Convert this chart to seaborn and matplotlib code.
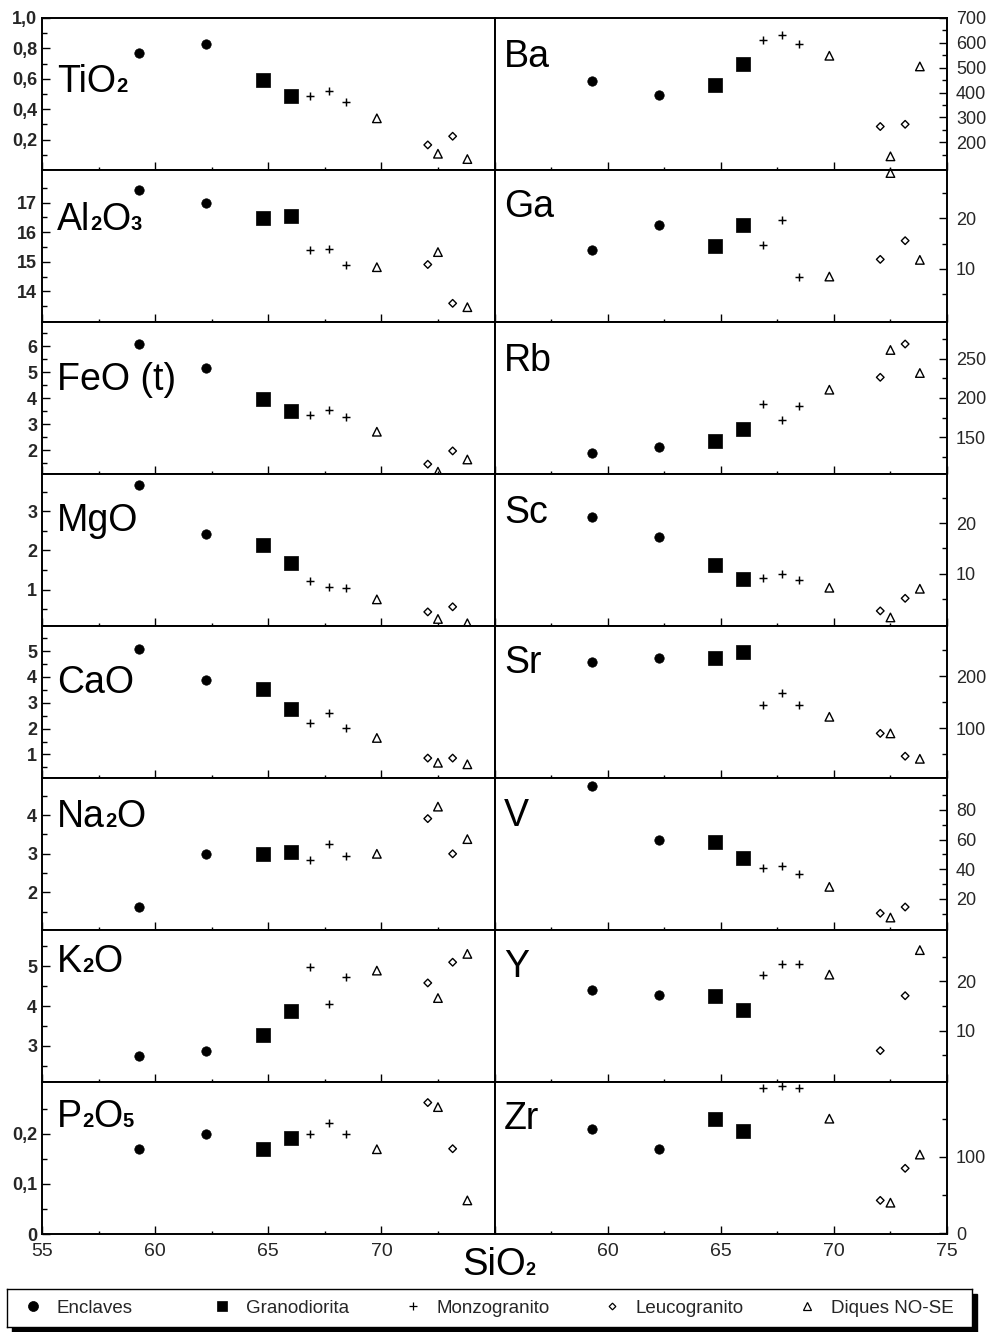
import numpy as np
import matplotlib
matplotlib.use("Agg")
import matplotlib.pyplot as plt
import seaborn as sns
from matplotlib.lines import Line2D
from matplotlib.patches import Rectangle
from matplotlib.legend import Legend

# ---------------- data ----------------
GROUPS = ["Enclaves", "Granodiorita", "Monzogranito", "Leucogranito", "Diques NO-SE"]

SIO2_ENCLAVES = [59.3, 62.25]
SIO2_GRANODIORITA = [64.75, 66.0]
SIO2_MONZOGRANITO = [66.85, 67.7, 68.45]
SIO2_LEUCOGRANITO = [72.05, 73.15]
SIO2_DIQUES = [69.8, 72.5, 73.8]

# values per group, in the order of GROUPS
TIO2 = [[0.77, 0.83], [0.59, 0.485], [0.487, 0.52, 0.45], [0.165, 0.222], [0.34, 0.107, 0.072]]
AL2O3 = [[17.44, 16.97], [16.49, 16.54], [15.39, 15.45, 14.91], [14.91, 13.6], [14.82, 15.33, 13.47]]
FEOT = [[6.10, 5.16], [3.96, 3.50], [3.35, 3.53, 3.27], [1.46, 1.97], [2.71, 1.17, 1.64]]
MGO = [[3.68, 2.42], [2.14, 1.68], [1.22, 1.07, 1.03], [0.43, 0.56], [0.75, 0.25, 0.14]]
CAO = [[5.07, 3.87], [3.55, 2.76], [2.20, 2.59, 2.04], [0.86, 0.86], [1.64, 0.68, 0.62]]
NA2O = [[1.63, 3.0], [3.0, 3.04], [2.85, 3.26, 2.95], [3.91, 3.0], [3.0, 4.22, 3.38]]
K2O = [[2.75, 2.86], [3.27, 3.88], [4.99, 4.06, 4.73], [4.58, 5.10], [4.89, 4.20, 5.31]]
P2O5 = [[0.170, 0.199], [0.170, 0.191], [0.200, 0.221, 0.200], [0.262, 0.170], [0.169, 0.253, 0.067]]

BA = [[447, 390], [430, 513], [611, 630, 594], [263, 272], [548, 143, 505]]
GA = [[13.8, 18.7], [14.5, 18.7], [14.7, 19.6, 8.5], [11.9, 15.6], [8.5, 29.0, 11.8]]
RB = [[129.8, 137.9], [144.7, 160.9], [192.3, 171.9, 189.4], [226.4, 268.9], [210.6, 261.3, 231.9]]
SC = [[21.3, 17.2], [11.8, 9.0], [9.1, 9.9, 8.7], [2.6, 5.1], [7.2, 1.3, 7.0]]
SR = [[227, 235], [235, 246], [145, 167, 145], [90, 46], [122, 90, 41]]
V = [[95.8, 59.8], [58.3, 47.8], [40.8, 42.2, 36.6], [10.3, 14.5], [28.1, 7.4, np.nan]]
Y = [[18.2, 17.2], [17.1, 14.2], [21.4, 23.5, 23.5], [5.9, 17.1], [21.4, np.nan, 26.4]]
ZR = [[137, 110], [150, 134], [190, 193, 190], [43, 85], [150, 40, 103]]

X_TICKS = [55, 60, 65, 70, 75]
X_TICKLABELS_LEFT = ["55", "60", "65", "70", ""]
X_TICKLABELS_RIGHT = ["", "60", "65", "70", "75"]

SIO2 = [SIO2_ENCLAVES, SIO2_GRANODIORITA, SIO2_MONZOGRANITO, SIO2_LEUCOGRANITO, SIO2_DIQUES]

# ---------------- styles ----------------
MARKERS = {
    "Enclaves": dict(marker="o", s=46, facecolor="k", lw=0.5),
    "Granodiorita": dict(marker="s", s=90, facecolor="k", lw=0.5),
    "Monzogranito": dict(marker="+", s=38, facecolor=None, lw=1.05),
    "Leucogranito": dict(marker="D", s=15, facecolor="none", lw=1.0),
    "Diques NO-SE": dict(marker="^", s=38, facecolor="none", lw=1.0),
}

sns.set_style("white")
plt.rcParams["font.family"] = ["Liberation Sans", "DejaVu Sans"]
plt.rcParams["axes.linewidth"] = 1.4


def comma(v):
    if abs(v) < 1e-9:
        return "0"
    return f"{v:.1f}".replace(".", ",")


LEFT = [
    (TIO2, (0.0, 1.0), [0.2, 0.4, 0.6, 0.8, 1.0], [0.1, 0.3, 0.5, 0.7, 0.9], "comma",
     [("TiO", False), ("2", True)], 0.513),
    (AL2O3, (12.97, 18.1), [14, 15, 16, 17], [13.5, 14.5, 15.5, 16.5, 17.5], "int",
     [("Al", False), ("2", True), ("O", False), ("3", True)], 0.605),
    (FEOT, (1.08, 6.94), [2, 3, 4, 5, 6], [1.5, 2.5, 3.5, 4.5, 5.5, 6.5], "int",
     [("FeO (t)", False)], 0.55),
    (MGO, (0.07, 3.95), [1, 2, 3], [0.5, 1.5, 2.5, 3.5], "int",
     [("MgO", False)], 0.625),
    (CAO, (0.09, 5.97), [1, 2, 3, 4, 5], [0.5, 1.5, 2.5, 3.5, 4.5, 5.5], "int",
     [("CaO", False)], 0.557),
    (NA2O, (1.03, 4.96), [2, 3, 4], [1.5, 2.5, 3.5, 4.5], "int",
     [("Na", False), ("2", True), ("O", False)], 0.68),
    (K2O, (2.09, 5.91), [3, 4, 5], [2.5, 3.5, 4.5, 5.5], "int",
     [("K", False), ("2", True), ("O", False)], 0.726),
    (P2O5, (0.0, 0.303), [0.0, 0.1, 0.2], [0.05, 0.15, 0.25], "comma",
     [("P", False), ("2", True), ("O", False), ("5", True)], 0.706),
]

RIGHT = [
    (BA, (88, 700), [200, 300, 400, 500, 600, 700], [150, 250, 350, 450, 550, 650], "int",
     [("Ba", False)], 0.68),
    (GA, (-0.5, 29.6), [10, 20], [5, 15, 25], "int", [("Ga", False)], 0.69),
    (RB, (103, 297), [150, 200, 250], [125, 175, 225, 275], "int", [("Rb", False)], 0.68),
    (SC, (-0.4, 29.8), [10, 20], [5, 15, 25], "int", [("Sc", False)], 0.68),
    (SR, (4, 297), [100, 200], [50, 150, 250], "int", [("Sr", False)], 0.69),
    (V, (-1, 101.5), [20, 40, 60, 80], [10, 30, 50, 70, 90], "int", [("V", False)], 0.685),
    (Y, (-0.5, 30.5), [10, 20], [5, 15, 25], "int", [("Y", False)], 0.69),
    (ZR, (-1, 198), [0, 100], [50, 150], "int", [("Zr", False)], 0.69),
]

fig = plt.figure(figsize=(9.98, 13.32), dpi=100)
fig.patch.set_facecolor("white")
gs = fig.add_gridspec(8, 2, left=0.0421, right=0.9489, top=0.98649, bottom=0.07357,
                      wspace=0, hspace=0)

label_jobs = []

for col, specs in enumerate([LEFT, RIGHT]):
    for row, (vals, ylim, majors, minors, fmt, parts, ly) in enumerate(specs):
        ax = fig.add_subplot(gs[row, col])
        ax.set_facecolor("white")
        for g, gname in enumerate(GROUPS):
            st = MARKERS[gname]
            kw = dict(marker=st["marker"], s=st["s"], color="k", edgecolor="k",
                      linewidth=st["lw"], legend=False, clip_on=False, zorder=3)
            if st["facecolor"] is not None:
                kw["facecolor"] = st["facecolor"]
            sns.scatterplot(x=SIO2[g], y=vals[g], ax=ax, **kw)
        ax.set_xlim(55, 75)
        ax.set_ylim(*ylim)
        ax.set_xlabel("")
        ax.set_ylabel("")
        for sp in ax.spines.values():
            sp.set_visible(True)
            sp.set_color("k")
            sp.set_linewidth(1.4)

        # x ticks
        if row == 7:
            xl = X_TICKLABELS_LEFT if col == 0 else X_TICKLABELS_RIGHT
            ax.set_xticks(X_TICKS, xl, fontsize=14)
        else:
            ax.set_xticks(X_TICKS)
            ax.tick_params(axis="x", labelbottom=False)
        ax.set_xticks([57.5, 62.5, 67.5, 72.5], minor=True)
        ax.tick_params(axis="x", which="major", direction="in", length=5.5, width=1.0,
                       bottom=True, top=False, pad=6.5, color="k")
        ax.tick_params(axis="x", which="minor", direction="in", length=2.5, width=1.0,
                       bottom=True, top=False, color="k")

        # y ticks
        if fmt == "comma":
            ylabels = [comma(v) for v in majors]
        else:
            ylabels = [f"{int(round(v))}" for v in majors]
        if col == 0:
            ax.set_yticks(majors, ylabels, fontsize=13, fontweight="bold")
            ax.set_yticks(minors, minor=True)
            ax.tick_params(axis="y", which="both", direction="in", left=True, right=False,
                           labelleft=True, labelright=False, width=1.0, color="k")
            ax.tick_params(axis="y", which="major", length=5.5, pad=3.5)
            ax.tick_params(axis="y", which="minor", length=3.5)
        else:
            ax.yaxis.tick_right()
            ax.set_yticks(majors, ylabels, fontsize=13)
            ax.set_yticks(minors, minor=True)
            ax.tick_params(axis="y", which="both", direction="in", left=False, right=True,
                           labelleft=False, labelright=True, width=1.0, color="k")
            ax.tick_params(axis="y", which="major", length=5.5, pad=6.5)
            ax.tick_params(axis="y", which="minor", length=3.5)

        lx = 0.033 if col == 0 else 0.021
        label_jobs.append((ax.transAxes, lx, ly, parts, 27, 14.5))

# x-axis title
label_jobs.append((fig.transFigure, 0.463, 0.0428, [("SiO", False), ("2", True)], 27.5, 13))

renderer = fig.canvas.get_renderer()
for transform, x0, y0, parts, big, small in label_jobs:
    x = x0
    for txt, sub in parts:
        t = fig.text(x, y0, txt, transform=transform, ha="left", va="baseline",
                     fontsize=small if sub else big,
                     fontweight="bold" if sub else "normal", color="k", zorder=5)
        bb = t.get_window_extent(renderer=renderer)
        x = transform.inverted().transform((bb.x1, bb.y0))[0]

# ---------------- legend ----------------
L_LEFT, L_BOTTOM, L_W, L_H = 7 / 998, 1 - 1327 / 1332, 965 / 998, 38 / 1332
shadow = Rectangle((12 / 998, 0.0), L_W, L_H, transform=fig.transFigure,
                   facecolor="k", edgecolor="k", zorder=1)
fig.add_artist(shadow)
lax = fig.add_axes([L_LEFT, L_BOTTOM, L_W, L_H])
lax.set_zorder(2)
lax.set_facecolor("white")
lax.set_xticks([])
lax.set_yticks([])
for sp in lax.spines.values():
    sp.set_visible(True)
    sp.set_color("k")
    sp.set_linewidth(1.0)

LEG_MS = {"Enclaves": 7.2, "Granodiorita": 6.8, "Monzogranito": 6.2,
          "Leucogranito": 3.4, "Diques NO-SE": 5.2}
LEG_X = [0.0195, 0.2153, 0.4132, 0.6194, 0.8215]
for i, gname in enumerate(GROUPS):
    st = MARKERS[gname]
    fc = st["facecolor"] if st["facecolor"] is not None else "k"
    h = Line2D([], [], ls="none", marker=st["marker"], markersize=LEG_MS[gname],
               markerfacecolor=fc, markeredgecolor="k",
               markeredgewidth=0.9 if st["marker"] in ("+", "D", "^") else 0.5, color="k")
    leg = Legend(lax, [h], [gname], loc="center left",
                 bbox_to_anchor=(LEG_X[i], 0.5), frameon=False, borderpad=0,
                 borderaxespad=0, handlelength=0.8, handletextpad=0.85,
                 fontsize=13.5)
    lax.add_artist(leg)

fig.savefig("out.png", dpi=100, facecolor="white")
